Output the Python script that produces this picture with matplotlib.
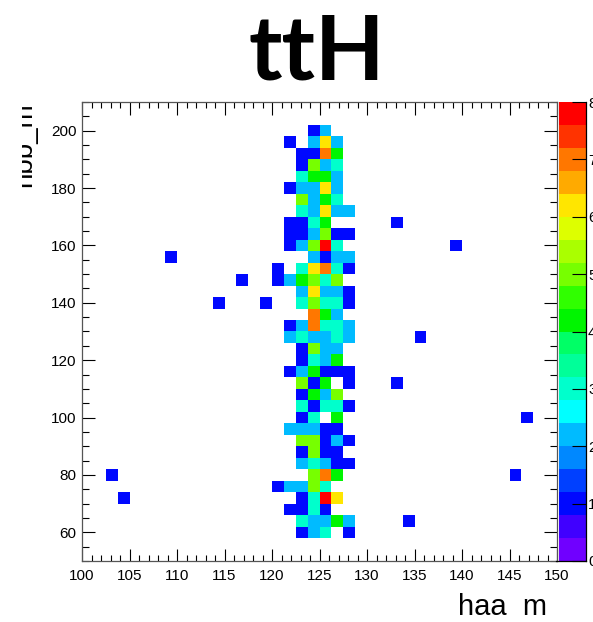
import numpy as np
import matplotlib
matplotlib.use("Agg")
import matplotlib.pyplot as plt
from matplotlib.colors import ListedColormap, BoundaryNorm
from matplotlib.ticker import MultipleLocator
from matplotlib.transforms import Bbox, TransformedBbox

# Binning: 40 x 40 bins
haa_edges = np.linspace(100, 150, 41)
hbb_edges = np.linspace(50, 210, 41)

# Core band around the Higgs mass (haa_m bin centres) and the hbb_m row centres
core_haa = [120.625, 121.875, 123.125, 124.375, 125.625, 126.875, 128.125]
core_hbb = [200, 196, 192, 188, 184, 180, 176, 172, 168, 164, 160, 156, 152,
            148, 144, 140, 136, 132, 128, 124, 120, 116, 112, 108, 104, 100,
            96, 92, 88, 84, 80, 76, 72, 68, 64, 60]
core_counts = [
    [0, 0, 0, 1, 2, 0, 0],
    [0, 1, 0, 2, 6, 2, 0],
    [0, 0, 1, 1, 7, 4, 0],
    [0, 0, 1, 5, 2, 3, 0],
    [0, 0, 3, 4, 4, 2, 0],
    [0, 1, 2, 2, 6, 2, 0],
    [0, 0, 5, 2, 4, 3, 0],
    [0, 0, 3, 2, 6, 2, 2],
    [0, 1, 1, 3, 4, 0, 0],
    [0, 1, 1, 2, 5, 1, 1],
    [0, 1, 2, 5, 8, 3, 0],
    [0, 0, 0, 2, 1, 2, 2],
    [1, 0, 3, 6, 7, 3, 1],
    [1, 2, 4, 5, 3, 5, 0],
    [0, 0, 2, 6, 2, 2, 1],
    [0, 0, 3, 5, 3, 3, 1],
    [0, 0, 0, 7, 4, 2, 0],
    [0, 1, 2, 7, 3, 3, 2],
    [0, 2, 3, 2, 2, 3, 2],
    [0, 0, 1, 5, 2, 2, 0],
    [0, 0, 1, 3, 2, 4, 0],
    [0, 1, 2, 4, 1, 1, 1],
    [0, 0, 5, 1, 4, 0, 1],
    [0, 0, 1, 4, 2, 5, 0],
    [0, 0, 3, 1, 3, 3, 1],
    [0, 0, 1, 3, 0, 4, 0],
    [0, 2, 2, 2, 1, 1, 0],
    [0, 0, 5, 5, 1, 2, 1],
    [0, 0, 1, 5, 1, 1, 0],
    [0, 0, 2, 3, 2, 1, 1],
    [0, 0, 0, 5, 7, 4, 0],
    [1, 2, 2, 5, 3, 0, 0],
    [0, 0, 1, 3, 8, 6, 0],
    [0, 1, 1, 3, 1, 0, 0],
    [0, 0, 3, 2, 2, 4, 2],
    [0, 0, 1, 2, 3, 0, 1],
]

# Isolated entries away from the core band
iso_haa = [133.125, 139.375, 109.375, 116.875, 114.375, 119.375, 135.625,
           133.125, 146.875, 103.125, 145.625, 104.375, 134.375]
iso_hbb = [168, 160, 156, 148, 140, 140, 128, 112, 100, 80, 80, 72, 64]
iso_counts = [1, 1, 1, 1, 1, 1, 1, 1, 1, 1, 1, 1, 1]

# Palette: 20 contour levels from 0 to 8
palette = ["#7000ff", "#4000ff", "#0008ff", "#0040ff", "#0088ff",
           "#00bbff", "#00ffff", "#00ffcc", "#00ff99", "#00ff66",
           "#00f500", "#30ff00", "#77ff00", "#aaff00", "#ddff00",
           "#ffe600", "#ffaa00", "#ff7700", "#ff3300", "#ff0000"]
levels = np.linspace(0, 8, 21)

xs, ys, ws = [], [], []
for yv, row in zip(core_hbb, core_counts):
    for xv, c in zip(core_haa, row):
        xs.append(xv); ys.append(yv); ws.append(c)
xs += iso_haa; ys += iso_hbb; ws += iso_counts

H, _, _ = np.histogram2d(xs, ys, bins=[haa_edges, hbb_edges], weights=ws)
Hm = np.ma.masked_where(H.T <= 0, H.T)

cmap = ListedColormap(palette)
cmap.set_over(palette[-1])
cmap.set_bad("white")
norm = BoundaryNorm(levels, cmap.N, clip=True)

W, Hpx = 593, 622
fig = plt.figure(figsize=(W / 100, Hpx / 100), dpi=100)
ax = fig.add_axes([82 / W, (Hpx - 561) / Hpx, 475 / W, 459 / Hpx])
cax = fig.add_axes([559 / W, (Hpx - 561) / Hpx, 27 / W, 459 / Hpx])

mesh = ax.pcolormesh(haa_edges, hbb_edges, Hm, cmap=cmap, norm=norm,
                     edgecolors="none", antialiased=False)
ax.set_xlim(100, 150)
ax.set_ylim(50, 210)

tick_font = "Liberation Sans"
ax.xaxis.set_major_locator(MultipleLocator(5))
ax.xaxis.set_minor_locator(MultipleLocator(1))
ax.set_yticks(np.arange(60, 201, 20))
ax.yaxis.set_minor_locator(MultipleLocator(5))
ax.tick_params(axis="x", which="major", direction="in", length=9, width=0.8,
               top=True, bottom=True, pad=6, labelsize=11)
ax.tick_params(axis="x", which="minor", direction="in", length=4.5, width=0.8,
               top=True, bottom=True)
ax.tick_params(axis="y", which="major", direction="in", length=9.5, width=0.8,
               left=True, right=True, pad=4, labelsize=11)
ax.tick_params(axis="y", which="minor", direction="in", length=5, width=0.8,
               left=True, right=True)
for lab in ax.get_xticklabels() + ax.get_yticklabels():
    lab.set_family(tick_font)
for sp in ax.spines.values():
    sp.set_linewidth(0.9)
    sp.set_color("#555555")

cb = fig.colorbar(mesh, cax=cax, ticks=range(9))
cb.outline.set_visible(False)
cax.minorticks_off()
cax.yaxis.set_ticks_position("right")
cax.tick_params(direction="in", length=10, width=0.8, pad=1.5, labelsize=11)
for lab in cax.get_yticklabels():
    lab.set_family(tick_font)
cax.plot([1, 1], [0, 1], transform=cax.transAxes, color="black", lw=0.9,
         clip_on=False)
cax.plot([-0.1, 1], [0, 0], transform=cax.transAxes, color="black", lw=0.9,
         clip_on=False)

fig.text(317 / W, 1 - 80 / Hpx, "ttH", ha="center", va="baseline",
         fontsize=65, fontweight="bold", family="Lato")
fig.text(547 / W, 1 - 615 / Hpx, "haa  m", ha="right", va="baseline",
         fontsize=21, family=tick_font)

# y title sits partly outside the pad, so only its lower part shows
ytitle = fig.text(31 / W, 1 - 102 / Hpx, "hbb_m", ha="right", va="baseline",
                  rotation=90, rotation_mode="anchor", fontsize=20,
                  family=tick_font)
pad_box = TransformedBbox(Bbox([[22 / W, 0], [1, 1]]), fig.transFigure)
ytitle.set_clip_box(pad_box)
ytitle.set_clip_on(True)

fig.savefig("out.png", dpi=100)
